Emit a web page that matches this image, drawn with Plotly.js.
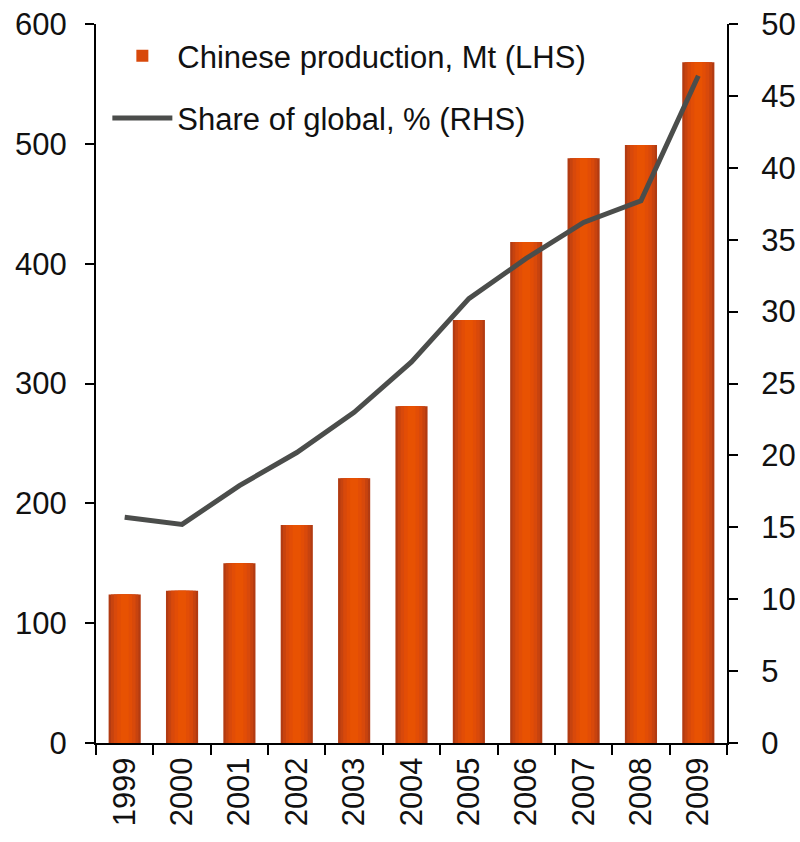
<!DOCTYPE html>
<html>
<head>
<meta charset="utf-8">
<script src="https://cdn.plot.ly/plotly-3.0.1.min.js"></script>
<style>
  html, body { margin: 0; padding: 0; background: #fff; }
  #chart { width: 800px; height: 842px; }
</style>
</head>
<body>
<div id="chart"></div>
<script>
// --- DATA ---
const years = ['1999', '2000', '2001', '2002', '2003', '2004', '2005', '2006', '2007', '2008', '2009'];
const production = [124, 127, 150, 182, 221, 281, 353, 418, 488, 499, 568];   // Mt, LHS
const shareGlobal = [15.7, 15.2, 17.9, 20.2, 23.0, 26.5, 30.9, 33.7, 36.2, 37.7, 46.4]; // %, RHS

// --- STYLE ---
const FONT = 'Liberation Sans, Arial, sans-serif';
const FS = 31;
// bar gradient faked with overlaid bars: wide/dark edges to narrow/bright centre
const barLayers = [
    { width: 0.56, color: '#b23b12' },
    { width: 0.48, color: '#c7430f' },
    { width: 0.38, color: '#d8490b' },
    { width: 0.26, color: '#e24d06' },
    { width: 0.14, color: '#e85202' }
];

let traces = barLayers.map((layer, i) => ({
    type: 'bar',
    x: years,
    y: production,
    width: layer.width,
    marker: { color: layer.color, line: { width: 0 } },
    name: 'Chinese production, Mt (LHS)',
    legendgroup: 'bars',
    showlegend: i === 2,
    legendrank: 1,
    hoverinfo: 'skip'
}));

traces.push({
    type: 'scatter',
    mode: 'lines',
    x: years,
    y: shareGlobal,
    yaxis: 'y2',
    name: 'Share of global, % (RHS)',
    legendgroup: 'line',
    line: { color: '#4b4d4b', width: 5 },
    legendrank: 2
});

function axisStyle(extra) {
    return Object.assign({
        showline: true, linecolor: '#000', linewidth: 2,
        ticks: 'outside', ticklen: 9, tickwidth: 2, tickcolor: '#000',
        showgrid: false, zeroline: false,
        tickfont: { family: FONT, size: FS, color: '#111' }
    }, extra);
}

let layout = {
    width: 800,
    height: 842,
    margin: { l: 96, r: 73, t: 24, b: 99 },
    paper_bgcolor: '#ffffff',
    plot_bgcolor: '#ffffff',
    font: { family: FONT, size: FS, color: '#111' },
    barmode: 'overlay',
    showlegend: true,
    legend: {
        x: 0.018, y: 0.993, xanchor: 'left', yanchor: 'top',
        bgcolor: 'rgba(0,0,0,0)',
        font: { family: FONT, size: FS, color: '#111' },
        itemwidth: 60,
        traceorder: 'grouped',
        tracegroupgap: 19
    },
    xaxis: axisStyle({
        type: 'category',
        range: [-0.5, 10.5],
        tickson: 'boundaries', ticklen: 10,
        tickangle: -90
    }),
    yaxis: axisStyle({
        range: [0, 600],
        dtick: 100,
        ticklabelstandoff: 12
    }),
    yaxis2: axisStyle({
        range: [0, 50],
        dtick: 5,
        overlaying: 'y',
        side: 'right',
        ticklabelstandoff: 17
    })
};

Plotly.newPlot('chart', traces, layout, { staticPlot: true });
</script>
</body>
</html>
